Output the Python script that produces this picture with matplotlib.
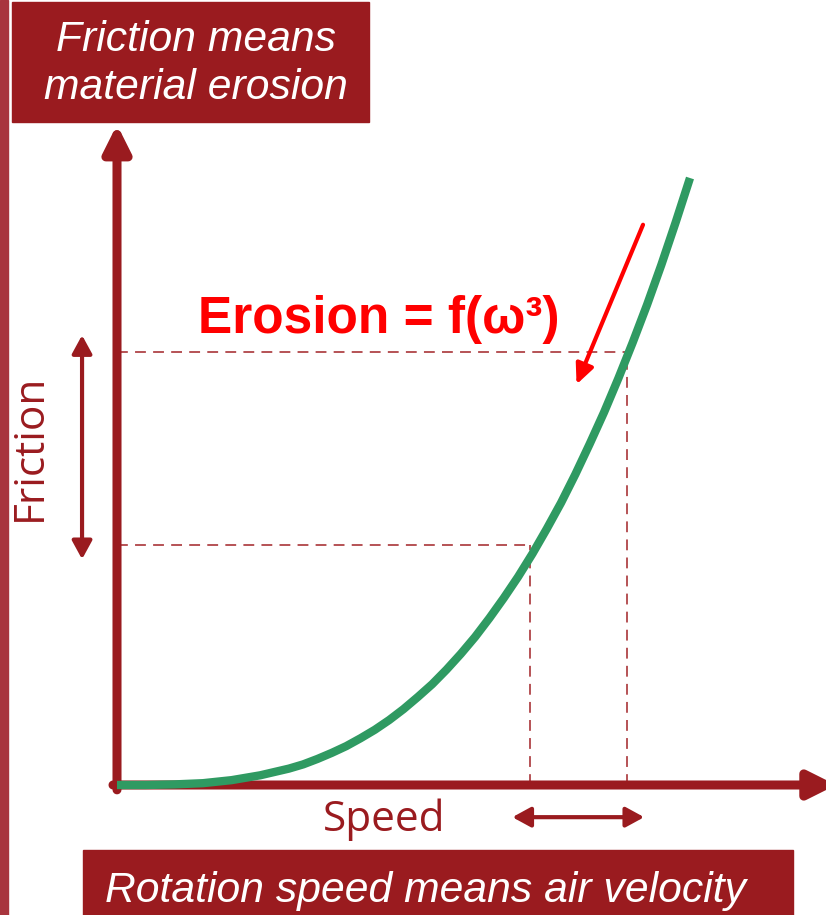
import matplotlib.pyplot as plt
from matplotlib.patches import Rectangle

# curve (speed, friction)
speed = [0, 0.5, 1, 1.5, 2, 2.5, 3, 3.25, 3.5, 3.75, 4, 4.25, 4.5, 4.75, 5, 5.25, 5.5,
         5.75, 6, 6.25, 6.5, 6.75, 7, 7.25, 7.5, 7.75, 8, 8.25, 8.5, 8.75, 9, 9.25,
         9.5, 9.75, 10]
friction = [0, 0.0, 0.01, 0.03, 0.08, 0.16, 0.27, 0.34, 0.43, 0.53, 0.64, 0.77, 0.91,
            1.07, 1.25, 1.45, 1.66, 1.90, 2.16, 2.44, 2.75, 3.08, 3.43, 3.81, 4.22,
            4.65, 5.12, 5.62, 6.14, 6.70, 7.29, 7.91, 8.57, 9.27, 10.0]

# dashed guide levels
mark_speed = [7.2, 8.9]
mark_friction = [3.95, 7.13]

top_text = "Friction means\nmaterial erosion"
bottom_text = "Rotation speed means air velocity"
formula_text = "Erosion = f(ω³)"

dark_red = "#9a1b1f"
green = "#2f9a62"
dash_col = "#b04448"

W, H = 826, 915
fig = plt.figure(figsize=(W / 100, H / 100), dpi=100)

# axes placed so that the origin sits at pixel (117, 785)
ax = fig.add_axes([117 / W, (H - 785) / H, 573 / W, 607 / H])
ax.set_xlim(0, 10)
ax.set_ylim(0, 10)
ax.axis("off")

# axis arrows
ax.annotate("", xy=(12.55, 0), xytext=(-0.07, 0), annotation_clip=False,
            arrowprops=dict(arrowstyle="-|>,head_length=1.6,head_width=0.8",
                            lw=6.5, color=dark_red, shrinkA=0, shrinkB=0))
ax.annotate("", xy=(0, 10.88), xytext=(0, -0.08), annotation_clip=False,
            arrowprops=dict(arrowstyle="-|>,head_length=1.6,head_width=0.8",
                            lw=6.5, color=dark_red, shrinkA=0, shrinkB=0))

# dashed guides
for s, f in zip(mark_speed, mark_friction):
    ax.plot([0, s], [f, f], color=dash_col, lw=1.3, ls=(0, (6, 4)), clip_on=False)
    ax.plot([s, s], [0, f], color=dash_col, lw=1.3, ls=(0, (6, 4)), clip_on=False)

# the curve
ax.plot(speed, friction, color=green, lw=6, solid_capstyle="butt",
        solid_joinstyle="round", clip_on=False, zorder=5)

# double arrows for ranges
ax.annotate("", xy=(-0.61, mark_friction[1] + 0.28), xytext=(-0.61, mark_friction[0] - 0.23),
            annotation_clip=False,
            arrowprops=dict(arrowstyle="<|-|>,head_length=1.1,head_width=0.6",
                            lw=3, color=dark_red, shrinkA=0, shrinkB=0))
ax.annotate("", xy=(9.2, -0.53), xytext=(6.9, -0.53), annotation_clip=False,
            arrowprops=dict(arrowstyle="<|-|>,head_length=1.1,head_width=0.6",
                            lw=3, color=dark_red, shrinkA=0, shrinkB=0))

# red arrow along the curve
ax.annotate("", xy=(8.02, 6.6), xytext=(9.18, 9.23), annotation_clip=False,
            arrowprops=dict(arrowstyle="-|>,head_length=1.2,head_width=0.55",
                            lw=3, color="#ff0000", shrinkA=0, shrinkB=0))

# labels
ax.text(4.66, -0.57, "Speed", family="Open Sans", fontsize=30.5, color=dark_red,
        ha="center", va="center")
ax.text(-1.52, 5.57, "Friction", family="Open Sans", fontsize=30.5, color=dark_red,
        ha="center", va="center", rotation=90)
fig.text(198 / W, 1 - 333 / H, formula_text, family="Liberation Sans", weight="bold",
         fontsize=37, color="#ff0000", ha="left", va="baseline")

# left edge stripe
fig.patches.append(Rectangle((0, 0), 8 / W, 1, transform=fig.transFigure,
                             color="#a8353e", zorder=0))

# title boxes
fig.patches.append(Rectangle((12 / W, 1 - 122 / H), 357 / W, 120 / H,
                             transform=fig.transFigure, color=dark_red, zorder=1))
fig.text(196 / W, 1 - 64 / H, top_text, family="Liberation Sans", style="italic",
         fontsize=30.7, color="white", ha="center", va="center", linespacing=1.25)

fig.patches.append(Rectangle((83 / W, 0), 710 / W, 65 / H,
                             transform=fig.transFigure, color=dark_red, zorder=1))
fig.text(105 / W, 1 - 902 / H, bottom_text, family="Liberation Sans", style="italic",
         fontsize=30.7, color="white", ha="left", va="baseline")

fig.savefig("out.png", dpi=100)
